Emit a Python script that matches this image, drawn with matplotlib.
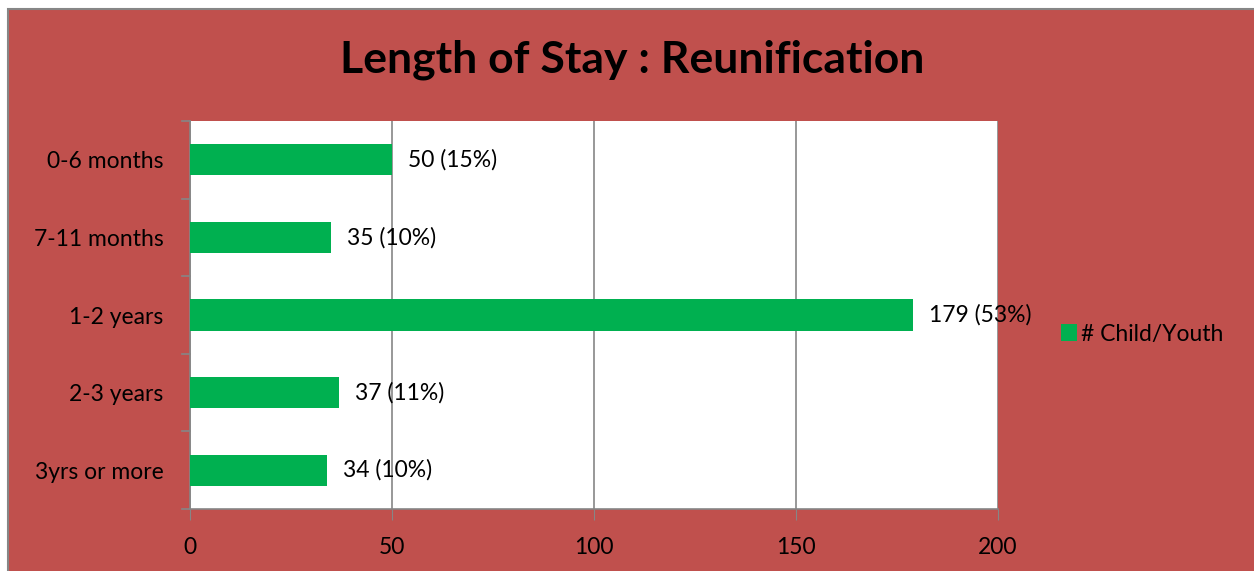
import matplotlib
matplotlib.use("Agg")
import matplotlib.pyplot as plt
from matplotlib.patches import Rectangle

categories = ["0-6 months", "7-11 months", "1-2 years", "2-3 years", "3yrs or more"]
values = [50, 35, 179, 37, 34]
labels = ["50 (15%)", "35 (10%)", "179 (53%)", "37 (11%)", "34 (10%)"]
series_name = "# Child/Youth"
xticks = [0, 50, 100, 150, 200]
title = "Length of Stay : Reunification"

RED = "#C0504D"
GREEN = "#00B050"
GRAY = "#868686"
FONT = "Lato"
FS = 16.5

W, H = 1254, 571
fig = plt.figure(figsize=(W / 100, H / 100), dpi=100)
fig.patch.set_facecolor("white")

bg = Rectangle((8 / W, -0.01), 1.01 - 8 / W, 1.01 - 9 / H, transform=fig.transFigure,
               facecolor=RED, edgecolor=GRAY, linewidth=1.5, zorder=-5)
fig.patches.append(bg)

left, right, top, bottom = 190, 998, 121, 509
ax = fig.add_axes([left / W, 1 - bottom / H, (right - left) / W, (bottom - top) / H])
ax.set_zorder(2)
ax.set_facecolor("white")

ypos = list(range(len(categories)))
ax.barh(ypos, values, height=0.4, color=GREEN, zorder=3, label=series_name)
ax.set_ylim(len(categories) - 0.5, -0.5)
ax.set_xlim(0, 200)
ax.set_xticks(xticks)
ax.set_xticklabels([str(t) for t in xticks], fontsize=FS, family=FONT)
ax.set_yticks(ypos)
ax.set_yticklabels(categories, fontsize=FS, family=FONT)
ax.tick_params(axis="y", length=0, pad=19)
ax.tick_params(axis="x", length=8, color=GRAY, pad=12)
for b in [i - 0.5 for i in range(len(categories) + 1)]:
    ax.plot([-0.01, 0], [b, b], transform=ax.get_yaxis_transform(), color=GRAY,
            lw=1.2, clip_on=False, zorder=4)
ax.grid(axis="x", color=GRAY, lw=1.2, zorder=1)
for s in ["top", "right"]:
    ax.spines[s].set_visible(False)
for s in ["left", "bottom"]:
    ax.spines[s].set_color(GRAY)
    ax.spines[s].set_linewidth(1.2)

for y, v, lab in zip(ypos, values, labels):
    ax.annotate(lab, (v, y), xytext=(16, 0), textcoords="offset pixels",
                va="center", ha="left", fontsize=FS, family=FONT, zorder=5,
                annotation_clip=False)

fig.text(0.5 * (343 + 922) / W, 1 - 60 / H, title, ha="center", va="center",
         fontsize=32, fontweight="bold", family=FONT)

leg = fig.legend(loc="center left", bbox_to_anchor=(1040 / W, 1 - 334 / H),
                 frameon=False, prop={"family": FONT, "size": FS},
                 handlelength=0.7, handleheight=0.7, handletextpad=0.2)

fig.savefig("out.png", dpi=100)
